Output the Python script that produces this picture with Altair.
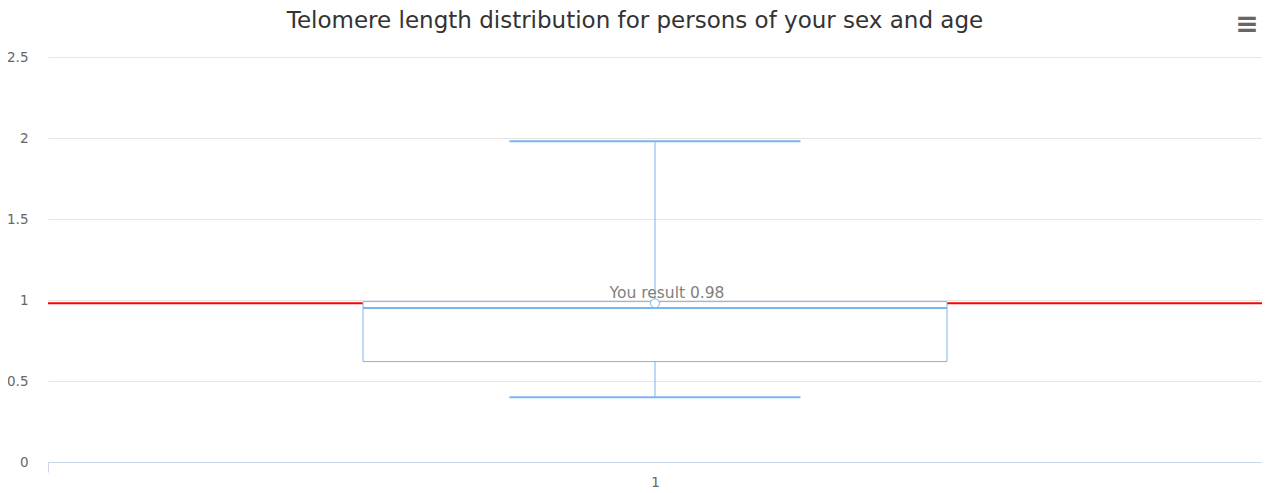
import altair as alt
import pandas as pd

categories = ["1"]
low = [0.40]
q1 = [0.62]
median = [0.95]
q3 = [0.99]
high = [1.98]
result = [0.98]
result_labels = ["You result 0.98"]
y_ticks = [0, 0.5, 1, 1.5, 2, 2.5]
title_text = "Telomere length distribution for persons of your sex and age"

df = pd.DataFrame({"cat": categories, "low": low, "q1": q1, "median": median,
                   "q3": q3, "high": high, "result": result, "label": result_labels})

FONT = "DejaVu Sans"
BLUE = "#7cb5ec"
AXIS_COLOR = "#ccd6eb"

x = alt.X("cat:N", scale=alt.Scale(paddingInner=0, paddingOuter=0),
          axis=alt.Axis(title=None, labelAngle=0, tickBand="extent", domainColor=AXIS_COLOR,
                        tickColor=AXIS_COLOR, tickSize=10, labelPadding=3, labelFontSize=13.5,
                        labelColor="#666666", labelFont=FONT, grid=False))
yscale = alt.Scale(domain=[0, 2.5], nice=False)
yaxis = alt.Axis(title=None, values=y_ticks, domain=False, ticks=False, labelPadding=20,
                 labelFontSize=13.5, labelColor="#666666", labelFont=FONT,
                 gridColor="#e6e6e6", grid=True, format="~g")

base = alt.Chart(df)

red = base.mark_rule(color="#ff0000", strokeWidth=2).encode(
    y=alt.Y("result:Q", scale=yscale, axis=yaxis), x=alt.value(0), x2=alt.value(1214))

stem_low = base.mark_rule(color=BLUE, strokeWidth=1).encode(
    x=x, y=alt.Y("low:Q", scale=yscale), y2="q1:Q")
stem_high = base.mark_rule(color=BLUE, strokeWidth=1).encode(
    x=x, y=alt.Y("q3:Q", scale=yscale), y2="high:Q")

box = base.mark_bar(size=584, fill="white", stroke=BLUE, strokeWidth=1).encode(
    x=x, y=alt.Y("q1:Q", scale=yscale), y2="q3:Q")

med = base.mark_tick(size=584, thickness=2, color=BLUE, opacity=1).encode(
    x=x, y=alt.Y("median:Q", scale=yscale))
cap_low = base.mark_tick(size=291, thickness=2, color=BLUE, opacity=1).encode(
    x=x, y=alt.Y("low:Q", scale=yscale))
cap_high = base.mark_tick(size=291, thickness=2, color=BLUE, opacity=1).encode(
    x=x, y=alt.Y("high:Q", scale=yscale))

pt = base.mark_point(shape="circle", size=80, filled=False, fill="white", fillOpacity=1,
                     stroke=BLUE, strokeWidth=1, opacity=1).encode(
    x=x, y=alt.Y("result:Q", scale=yscale))

lbl = base.mark_text(font=FONT, fontSize=15.5, color="#808080", dx=12, dy=-10, baseline="middle").encode(
    x=x, y=alt.Y("result:Q", scale=yscale), text="label:N")

title = alt.Chart(pd.DataFrame({"t": [title_text]})).mark_text(
    font=FONT, fontSize=23, color="#333333", align="center", baseline="middle").encode(
    x=alt.value(587), y=alt.value(-36), text="t:N")

menu = alt.Chart(pd.DataFrame({"t": ["\u2261"]})).mark_text(
    font=FONT, fontSize=28, fontWeight="bold", color="#666666", align="center", baseline="middle").encode(
    x=alt.value(1199), y=alt.value(-32), text="t:N")

chart = alt.layer(red, stem_low, stem_high, box, med, cap_low, cap_high,
                  pt, lbl, title, menu).properties(
    width=1214, height=405,
    background="white",
    autosize=alt.AutoSizeParams(type="none"),
    padding={"left": 40, "top": 49, "right": 0, "bottom": 30},
).configure_view(strokeWidth=0, stroke="transparent")

chart.save("out.html", embed_options={"renderer": "svg", "actions": False})
